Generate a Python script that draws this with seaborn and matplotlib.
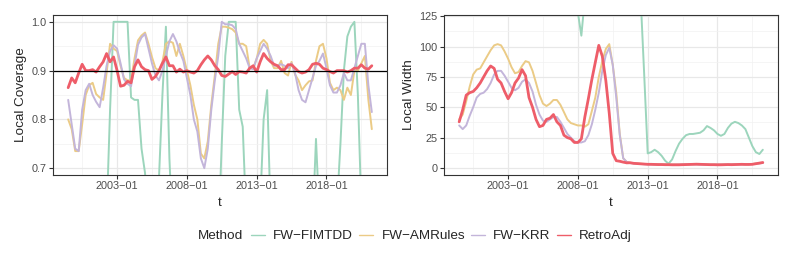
import numpy as np
import pandas as pd
import matplotlib
matplotlib.use("Agg")
import matplotlib.pyplot as plt
import matplotlib.dates as mdates
from matplotlib.ticker import FixedLocator, NullFormatter
from matplotlib.lines import Line2D
import seaborn as sns

# quarterly time points
t = pd.date_range("1999-07-01", periods=88, freq="QS")

methods = ["FW\u2212FIMTDD", "FW\u2212AMRules", "FW\u2212KRR", "RetroAdj"]
colors = ["#9cd5bc", "#ebcb86", "#c3b5da", "#ee5d69"]

cov_fimtdd = [0.55] * 11 + [
    0.60, 0.82, 1.0, 1.0, 1.0, 1.0, 1.0, 0.845, 0.84, 0.84,
    0.74, 0.69, 0.58, 0.55, 0.55, 0.68, 0.85, 0.99, 0.72, 0.55] + [0.55] * 13 + [
    0.75, 0.93, 1.0, 1.0, 1.0, 0.82, 0.785, 0.60] + [0.55] * 3 + [
    0.62, 0.80, 0.86, 0.60] + [0.55] * 11 + [0.58, 0.76, 0.60] + [0.55] * 4 + [
    0.62, 0.75, 0.90, 0.97, 0.99, 1.0, 0.85, 0.62] + [0.55] * 3
cov_amrules = [
    0.800, 0.780, 0.735, 0.735, 0.790, 0.850, 0.870, 0.875, 0.852, 0.845,
    0.840, 0.895, 0.955, 0.945, 0.940, 0.910, 0.885, 0.880, 0.880, 0.925,
    0.962, 0.972, 0.978, 0.955, 0.928, 0.905, 0.900, 0.918, 0.955, 0.960,
    0.957, 0.930, 0.955, 0.930, 0.900, 0.870, 0.830, 0.800, 0.730, 0.720,
    0.755, 0.830, 0.890, 0.955, 0.990, 0.990, 0.988, 0.985, 0.978, 0.955,
    0.955, 0.950, 0.905, 0.905, 0.925, 0.955, 0.963, 0.955, 0.920, 0.905,
    0.905, 0.920, 0.895, 0.890, 0.918, 0.892, 0.880, 0.860, 0.870, 0.878,
    0.880, 0.920, 0.950, 0.955, 0.925, 0.875, 0.860, 0.865, 0.860, 0.840,
    0.865, 0.850, 0.900, 0.900, 0.915, 0.930, 0.840, 0.780]
cov_krr = [
    0.840, 0.790, 0.740, 0.735, 0.820, 0.860, 0.873, 0.850, 0.836, 0.825,
    0.865, 0.910, 0.940, 0.952, 0.945, 0.915, 0.882, 0.873, 0.868, 0.910,
    0.953, 0.968, 0.975, 0.945, 0.915, 0.890, 0.880, 0.900, 0.930, 0.960,
    0.975, 0.960, 0.938, 0.920, 0.885, 0.850, 0.800, 0.775, 0.720, 0.700,
    0.740, 0.820, 0.880, 0.930, 1.000, 0.995, 0.995, 0.993, 0.985, 0.955,
    0.940, 0.925, 0.905, 0.903, 0.925, 0.940, 0.955, 0.945, 0.930, 0.910,
    0.910, 0.913, 0.910, 0.905, 0.915, 0.895, 0.860, 0.840, 0.835, 0.860,
    0.885, 0.910, 0.920, 0.935, 0.905, 0.870, 0.855, 0.855, 0.870, 0.895,
    0.880, 0.880, 0.905, 0.930, 0.955, 0.955, 0.870, 0.815]
cov_retro = [
    0.865, 0.885, 0.875, 0.895, 0.913, 0.900, 0.900, 0.902, 0.897, 0.908,
    0.918, 0.935, 0.918, 0.928, 0.900, 0.868, 0.870, 0.878, 0.875, 0.908,
    0.922, 0.908, 0.902, 0.900, 0.882, 0.888, 0.900, 0.915, 0.928, 0.910,
    0.910, 0.897, 0.903, 0.897, 0.900, 0.897, 0.895, 0.900, 0.912, 0.922,
    0.930, 0.922, 0.910, 0.902, 0.890, 0.888, 0.893, 0.898, 0.892, 0.898,
    0.897, 0.895, 0.905, 0.910, 0.897, 0.918, 0.935, 0.925, 0.918, 0.913,
    0.910, 0.902, 0.902, 0.912, 0.912, 0.905, 0.898, 0.895, 0.897, 0.902,
    0.913, 0.915, 0.913, 0.905, 0.902, 0.898, 0.895, 0.900, 0.900, 0.900,
    0.897, 0.900, 0.905, 0.905, 0.912, 0.905, 0.903, 0.910]

wid_fimtdd = [
    190, 210, 230, 220, 200, 185, 175, 180, 195, 210,
    220, 215, 200, 190, 180, 175, 170, 180, 190, 200,
    210, 205, 195, 185, 175, 170, 165, 170, 175, 170,
    165, 160, 155, 150, 128, 109, 140, 170, 190, 200,
    210, 215, 205, 195, 190, 185, 180, 175, 170, 165,
    155, 150, 140, 77, 12, 13, 15, 13, 10, 6,
    3.5, 7, 14, 20, 24, 27, 28, 28, 28.5, 29,
    31, 34.5, 33, 31, 28, 26.5, 28, 33, 36.5, 38,
    37, 35, 32, 25, 18, 13, 11.5, 15]
wid_amrules = [
    40, 44, 55, 67, 77, 81, 82, 87, 92, 97,
    101, 102, 101, 96, 90, 83, 78, 79, 84, 88,
    87, 80, 70, 60, 53, 51, 53, 56, 56, 52,
    46, 40, 37, 36, 35, 35, 34, 36, 47, 58,
    75, 88, 98, 102, 85, 62, 28, 8, 5, 4.2,
    3.9, 3.7, 3.5, 3.3, 3.2, 3.1, 3.0, 3.0, 2.9, 2.9,
    2.8, 2.8, 2.8, 2.8, 2.9, 3.0, 3.0, 3.1, 3.1, 3.0,
    2.9, 2.9, 2.8, 2.8, 2.8, 2.9, 2.9, 2.9, 3.0, 3.0,
    3.1, 3.0, 3.0, 3.1, 3.3, 3.6, 3.9, 4.2]
wid_krr = [
    35, 32, 35, 43, 50, 58, 61, 62, 65, 70,
    77, 80, 80, 76, 71, 66, 64, 66, 71, 73,
    70, 63, 52, 44, 39, 38, 40, 42, 42, 38,
    33, 28, 25, 22, 21, 21, 22, 27, 36, 48,
    62, 80, 93, 99, 85, 58, 27, 8, 5, 4.0,
    3.7, 3.5, 3.3, 3.1, 3.0, 2.9, 2.9, 2.8, 2.8, 2.7,
    2.7, 2.7, 2.7, 2.8, 2.9, 2.9, 3.0, 3.0, 2.9, 2.8,
    2.8, 2.7, 2.7, 2.7, 2.8, 2.8, 2.8, 2.9, 2.9, 3.0,
    2.9, 2.9, 3.0, 3.0, 3.2, 3.5, 3.8, 4.1]
wid_retro = [
    38, 48, 60, 62, 63, 66, 70, 75, 80, 84,
    82, 73, 70, 63, 57, 62, 70, 74, 81, 76,
    58, 50, 40, 34, 35, 40, 41, 44, 38, 35,
    27, 25, 24, 21, 21, 24, 42, 57, 73, 87,
    101, 92, 72, 45, 12, 6, 5.5, 4.8, 4.2, 4.3,
    3.8, 3.6, 3.4, 3.2, 3.0, 3.0, 2.9, 2.8, 2.8, 2.7,
    2.7, 2.6, 2.6, 2.6, 2.7, 2.8, 2.9, 3.0, 3.1, 3.0,
    2.9, 2.8, 2.7, 2.7, 2.6, 2.6, 2.7, 2.8, 2.7, 2.8,
    2.9, 3.0, 2.9, 2.9, 3.0, 3.5, 4.0, 4.5]

rows = []
for m, cv, wd in zip(methods, [cov_fimtdd, cov_amrules, cov_krr, cov_retro],
                     [wid_fimtdd, wid_amrules, wid_krr, wid_retro]):
    rows.append(pd.DataFrame({"t": t, "Method": m, "coverage": cv, "width": wd}))
df = pd.concat(rows, ignore_index=True)

sns.set_theme(style="white")
plt.rcParams['font.family'] = ['Liberation Sans', 'DejaVu Sans']

fig = plt.figure(figsize=(7.93, 2.64), dpi=100)
ax1 = fig.add_axes([53 / 793, 89 / 264, 334 / 793, 160 / 264])
ax2 = fig.add_axes([444 / 793, 89 / 264, 334 / 793, 160 / 264])

major = [pd.Timestamp(f"{y}-01-01") for y in (2003, 2008, 2013, 2018)]
minor = [pd.Timestamp(f"{y}-07-01") for y in (2000, 2005, 2010, 2015, 2020)]

for ax, col, ylab in [(ax1, "coverage", "Local Coverage"), (ax2, "width", "Local Width")]:
    for m, c in zip(methods, colors):
        lw = 2.0 if m == "RetroAdj" else 1.4
        sns.lineplot(data=df[df.Method == m], x="t", y=col, color=c, lw=lw, ax=ax)
    ax.xaxis.set_major_locator(FixedLocator(mdates.date2num(major)))
    ax.xaxis.set_minor_locator(FixedLocator(mdates.date2num(minor)))
    ax.xaxis.set_major_formatter(mdates.DateFormatter("%Y\u2212%m"))
    ax.grid(which="major", color="#e8e8e8", lw=0.9)
    ax.grid(which="minor", color="#f2f2f2", lw=0.5)
    ax.set_axisbelow(True)
    for s in ax.spines.values():
        s.set_color("#333333")
        s.set_linewidth(0.8)
    ax.tick_params(which="major", length=3, width=0.8, color="#333333",
                   labelsize=7.8, labelcolor="#4d4d4d", pad=1.5, bottom=True, left=True)
    ax.tick_params(which="minor", length=0)
    ax.set_xlabel("t", fontsize=9.7, labelpad=4)
    ax.set_ylabel(ylab, fontsize=9.7, labelpad=3)

ax1.axhline(0.9, color="black", lw=0.9)
ax1.set_ylim(0.686, 1.014)
ax1.set_yticks([0.7, 0.8, 0.9, 1.0])
ax1.set_yticklabels(["0.7", "0.8", "0.9", "1.0"])
ax1.set_yticks([0.75, 0.85, 0.95], minor=True)

ax2.set_ylim(-5.8, 126)
ax2.set_yticks([0, 25, 50, 75, 100, 125])
ax2.set_yticks([12.5, 37.5, 62.5, 87.5, 112.5], minor=True)

handles = [Line2D([], [], color=c, lw=1.0) for c in colors]
fig.text(198 / 793, 28 / 264, "Method", fontsize=9.7, ha="left", va="center")
fig.legend(handles, methods, loc="center left", bbox_to_anchor=(251 / 793, 28 / 264),
           ncol=4, frameon=False, fontsize=9.7, handlelength=1.05, handletextpad=0.6,
           columnspacing=0.45, borderpad=0, borderaxespad=0)

fig.savefig("out.png", dpi=100)
